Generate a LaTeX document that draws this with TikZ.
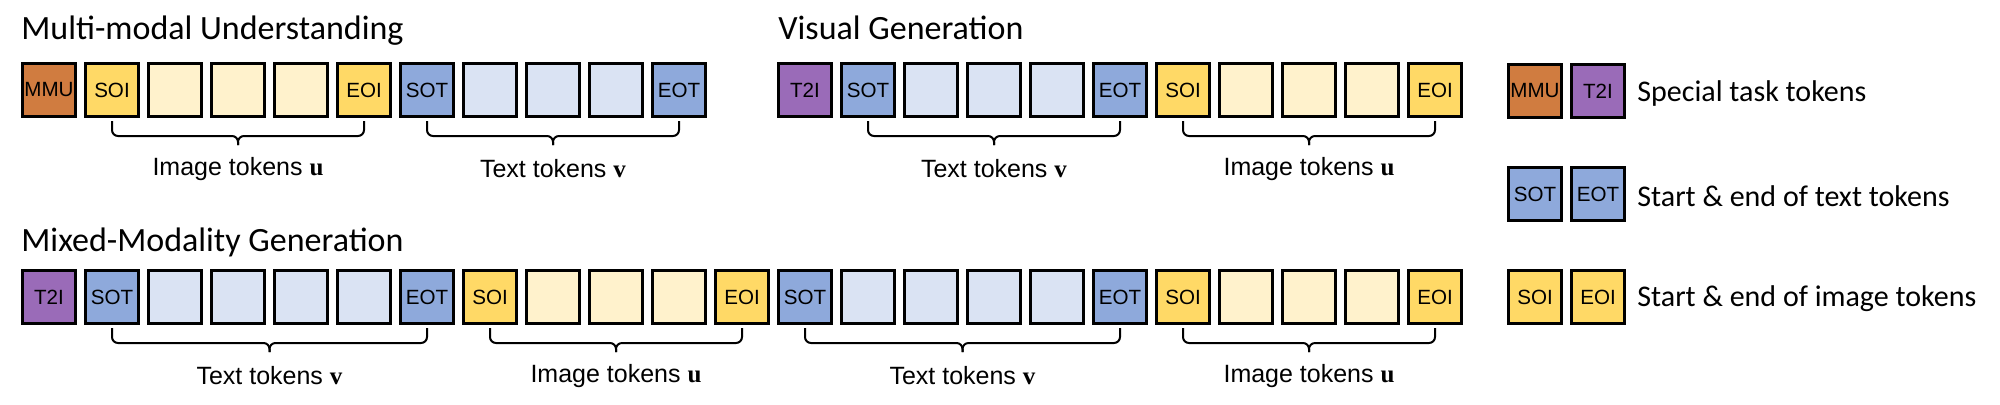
\documentclass[tikz,border=0pt]{standalone}
\usetikzlibrary{calc}
\usepackage{fontspec}
\setmainfont{Carlito}
\newfontfamily\arialf{Liberation Sans}
\newfontfamily\timesf{Liberation Serif}
\definecolor{cmmu}{HTML}{D07C40}
\definecolor{ct2i}{HTML}{9A6BB8}
\definecolor{cbt}{HTML}{8EA9DB}
\definecolor{clt}{HTML}{DAE3F3}
\definecolor{cyi}{HTML}{FFD966}
\definecolor{cli}{HTML}{FFF2CC}
\begin{document}
\begin{tikzpicture}[x=0.5pt,y=-0.5pt,
  tok/.style={draw=black,line width=1.5pt,minimum width=26.5pt,minimum height=26.5pt,inner sep=0pt,font=\arialf\fontsize{10.3}{12}\selectfont},
  mmu/.style={tok,fill=cmmu},
  t2i/.style={tok,fill=ct2i},
  bt/.style={tok,fill=cbt},
  lt/.style={tok,fill=clt},
  yi/.style={tok,fill=cyi},
  li/.style={tok,fill=cli},
  title/.style={anchor=base west,inner sep=0pt,font=\fontsize{17}{20}\selectfont},
  leg/.style={anchor=west,inner sep=0pt,font=\fontsize{15}{18}\selectfont},
  lab/.style={inner sep=0pt,font=\arialf\fontsize{12.5}{15}\selectfont},
  brace/.style={line width=1pt,rounded corners=3pt}]
\useasboundingbox (0,0) rectangle (2000,404);
\newcommand{\tk}[5]{\node[#4] (#1) at (#2+28,#3) {#5};}
\newcommand{\brc}[3]{%
  \coordinate (#3) at ($(#1.south)!0.5!(#2.south)+(0,27)$);
  \draw[brace] ([yshift=-1.5pt]#1.south) -- ++(0,15) -| (#3);
  \draw[brace] ([yshift=-1.5pt]#2.south) -- ++(0,15) -| (#3);
}
% titles
\node[title] (t1) at (21,39) {Multi-modal Understanding};
\node[title] (t2) at (778,39) {Visual Generation};
\node[title] (t3) at (21,251) {Mixed-Modality Generation};
% row 1 group 1
\tk{a0}{21}{90}{mmu}{MMU}
\tk{a1}{84}{90}{yi}{SOI}
\tk{a2}{147}{90}{li}{}
\tk{a3}{210}{90}{li}{}
\tk{a4}{273}{90}{li}{}
\tk{a5}{336}{90}{yi}{EOI}
\tk{a6}{399}{90}{bt}{SOT}
\tk{a7}{462}{90}{lt}{}
\tk{a8}{525}{90}{lt}{}
\tk{a9}{588}{90}{lt}{}
\tk{a10}{651}{90}{bt}{EOT}
% row 1 group 2
\tk{b0}{777}{90}{t2i}{T2I}
\tk{b1}{840}{90}{bt}{SOT}
\tk{b2}{903}{90}{lt}{}
\tk{b3}{966}{90}{lt}{}
\tk{b4}{1029}{90}{lt}{}
\tk{b5}{1092}{90}{bt}{EOT}
\tk{b6}{1155}{90}{yi}{SOI}
\tk{b7}{1218}{90}{li}{}
\tk{b8}{1281}{90}{li}{}
\tk{b9}{1344}{90}{li}{}
\tk{b10}{1407}{90}{yi}{EOI}
% row 2
\tk{c0}{21}{297}{t2i}{T2I}
\tk{c1}{84}{297}{bt}{SOT}
\tk{c2}{147}{297}{lt}{}
\tk{c3}{210}{297}{lt}{}
\tk{c4}{273}{297}{lt}{}
\tk{c5}{336}{297}{lt}{}
\tk{c6}{399}{297}{bt}{EOT}
\tk{c7}{462}{297}{yi}{SOI}
\tk{c8}{525}{297}{li}{}
\tk{c9}{588}{297}{li}{}
\tk{c10}{651}{297}{li}{}
\tk{c11}{714}{297}{yi}{EOI}
\tk{c12}{777}{297}{bt}{SOT}
\tk{c13}{840}{297}{lt}{}
\tk{c14}{903}{297}{lt}{}
\tk{c15}{966}{297}{lt}{}
\tk{c16}{1029}{297}{lt}{}
\tk{c17}{1092}{297}{bt}{EOT}
\tk{c18}{1155}{297}{yi}{SOI}
\tk{c19}{1218}{297}{li}{}
\tk{c20}{1281}{297}{li}{}
\tk{c21}{1344}{297}{li}{}
\tk{c22}{1407}{297}{yi}{EOI}
% braces
\brc{a1}{a5}{ba1}
\brc{a6}{a10}{ba2}
\brc{b1}{b5}{bb1}
\brc{b6}{b10}{bb2}
\brc{c1}{c6}{bc1}
\brc{c7}{c11}{bc2}
\brc{c12}{c17}{bc3}
\brc{c18}{c22}{bc4}
\newcommand{\imgl}{Image tokens {\timesf\bfseries u}}
\newcommand{\txtl}{Text tokens {\timesf\bfseries v}}
\node[lab] (la1) at ($(ba1)+(0,24)$) {\imgl};
\node[lab] (la2) at ($(ba2)+(0,24)$) {\txtl};
\node[lab] (lb1) at ($(bb1)+(0,24)$) {\txtl};
\node[lab] (lb2) at ($(bb2)+(0,24)$) {\imgl};
\node[lab] (lc1) at ($(bc1)+(0,24)$) {\txtl};
\node[lab] (lc2) at ($(bc2)+(0,24)$) {\imgl};
\node[lab] (lc3) at ($(bc3)+(0,24)$) {\txtl};
\node[lab] (lc4) at ($(bc4)+(0,24)$) {\imgl};
% legend
\tk{g1}{1507}{91}{mmu}{MMU}
\tk{g2}{1570}{91}{t2i}{T2I}
\node[leg] (gt1) at (1637,93) {Special task tokens};
\tk{g3}{1507}{194}{bt}{SOT}
\tk{g4}{1570}{194}{bt}{EOT}
\node[leg] (gt2) at (1637,196) {Start \& end of text tokens};
\tk{g5}{1507}{297}{yi}{SOI}
\tk{g6}{1570}{297}{yi}{EOI}
\node[leg] (gt3) at (1637,299) {Start \& end of image tokens};
\end{tikzpicture}
\end{document}
